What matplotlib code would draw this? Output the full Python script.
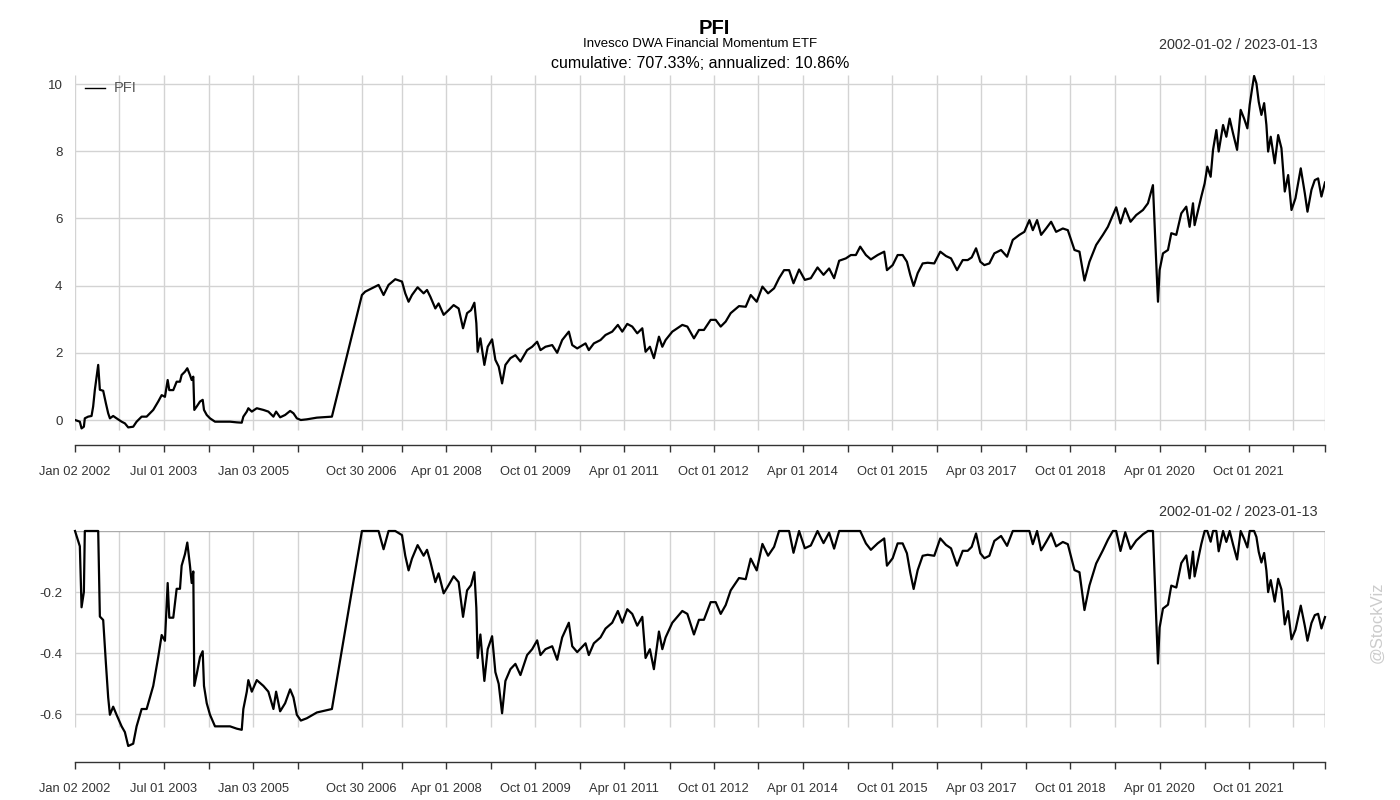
import numpy as np
import pandas as pd
import matplotlib
matplotlib.use("Agg")
import matplotlib.pyplot as plt

plt.rcParams['font.family'] = ['Liberation Sans', 'DejaVu Sans']

# fecha en años decimales y rentabilidad acumulada
years = [
    2002.003, 2002.084, 2002.113, 2002.152, 2002.168, 2002.224, 2002.281, 2002.308, 2002.337, 2002.366,
    2002.393, 2002.421, 2002.477, 2002.522, 2002.561, 2002.590, 2002.645, 2002.702, 2002.787, 2002.842,
    2002.898, 2002.982, 2003.039, 2003.124, 2003.208, 2003.319, 2003.403, 2003.461, 2003.516, 2003.562,
    2003.589, 2003.656, 2003.713, 2003.769, 2003.797, 2003.853, 2003.892, 2003.937, 2003.966, 2003.993,
    2004.010, 2004.050, 2004.106, 2004.151, 2004.173, 2004.219, 2004.274, 2004.358, 2004.498, 2004.611,
    2004.724, 2004.808, 2004.835, 2004.893, 2004.919, 2004.977, 2005.061, 2005.172, 2005.256, 2005.341,
    2005.386, 2005.454, 2005.538, 2005.622, 2005.678, 2005.735, 2005.802, 2005.903, 2006.072, 2006.325,
    2006.830, 2006.885, 2006.998, 2007.110, 2007.194, 2007.278, 2007.391, 2007.504, 2007.559, 2007.615,
    2007.672, 2007.767, 2007.868, 2007.925, 2007.981, 2008.065, 2008.120, 2008.205, 2008.289, 2008.373,
    2008.457, 2008.531, 2008.599, 2008.666, 2008.722, 2008.755, 2008.777, 2008.823, 2008.890, 2008.946,
    2009.020, 2009.075, 2009.131, 2009.188, 2009.244, 2009.328, 2009.412, 2009.497, 2009.609, 2009.694,
    2009.778, 2009.834, 2009.918, 2010.031, 2010.115, 2010.199, 2010.311, 2010.368, 2010.452, 2010.592,
    2010.647, 2010.732, 2010.844, 2010.928, 2011.041, 2011.136, 2011.210, 2011.294, 2011.378, 2011.462,
    2011.547, 2011.602, 2011.675, 2011.742, 2011.827, 2011.884, 2011.939, 2012.052, 2012.136, 2012.220,
    2012.305, 2012.416, 2012.500, 2012.584, 2012.697, 2012.782, 2012.866, 2012.950, 2013.034, 2013.174,
    2013.287, 2013.371, 2013.472, 2013.568, 2013.663, 2013.764, 2013.848, 2013.932, 2014.017, 2014.091,
    2014.185, 2014.281, 2014.382, 2014.495, 2014.596, 2014.690, 2014.774, 2014.859, 2014.972, 2015.056,
    2015.140, 2015.213, 2015.309, 2015.393, 2015.506, 2015.617, 2015.663, 2015.759, 2015.843, 2015.927,
    2015.999, 2016.055, 2016.112, 2016.180, 2016.264, 2016.348, 2016.459, 2016.560, 2016.656, 2016.741,
    2016.842, 2016.938, 2017.022, 2017.089, 2017.162, 2017.234, 2017.302, 2017.386, 2017.470, 2017.583,
    2017.684, 2017.780, 2017.891, 2017.975, 2018.060, 2018.117, 2018.189, 2018.257, 2018.341, 2018.425,
    2018.509, 2018.622, 2018.706, 2018.762, 2018.818, 2018.902, 2018.986, 2019.070, 2019.183, 2019.296,
    2019.380, 2019.464, 2019.520, 2019.592, 2019.672, 2019.761, 2019.857, 2019.970, 2020.054, 2020.138,
    2020.165, 2020.199, 2020.223, 2020.250, 2020.307, 2020.391, 2020.447, 2020.531, 2020.615, 2020.699,
    2020.755, 2020.812, 2020.839, 2020.952, 2021.008, 2021.053, 2021.109, 2021.149, 2021.205, 2021.244,
    2021.318, 2021.373, 2021.429, 2021.486, 2021.554, 2021.614, 2021.672, 2021.727, 2021.766, 2021.807,
    2021.840, 2021.879, 2021.918, 2021.963, 2022.009, 2022.047, 2022.076, 2022.120, 2022.187, 2022.245,
    2022.300, 2022.356, 2022.413, 2022.469, 2022.536, 2022.625, 2022.693, 2022.738, 2022.805, 2022.861,
    2022.917, 2022.973, 2023.033,
]
cum_ret = [
    0.00, -0.05, -0.25, -0.20, 0.05, 0.10, 0.12, 0.40, 0.90, 1.29,
    1.64, 0.90, 0.87, 0.50, 0.20, 0.05, 0.12, 0.05, -0.05, -0.10,
    -0.22, -0.20, -0.05, 0.10, 0.10, 0.30, 0.55, 0.74, 0.69, 1.19,
    0.89, 0.89, 1.14, 1.14, 1.34, 1.44, 1.54, 1.34, 1.19, 1.29,
    0.30, 0.40, 0.55, 0.60, 0.30, 0.15, 0.05, -0.05, -0.05, -0.05,
    -0.07, -0.08, 0.10, 0.25, 0.35, 0.25, 0.35, 0.30, 0.25, 0.10,
    0.25, 0.08, 0.15, 0.27, 0.20, 0.05, 0.00, 0.02, 0.07, 0.10,
    3.72, 3.82, 3.92, 4.02, 3.72, 4.02, 4.19, 4.12, 3.77, 3.52,
    3.72, 3.95, 3.77, 3.87, 3.67, 3.32, 3.47, 3.13, 3.27, 3.42,
    3.32, 2.73, 3.18, 3.27, 3.49, 2.88, 2.03, 2.43, 1.64, 2.18,
    2.40, 1.79, 1.59, 1.09, 1.64, 1.84, 1.93, 1.74, 2.08, 2.18,
    2.33, 2.08, 2.18, 2.23, 2.00, 2.38, 2.63, 2.23, 2.13, 2.28,
    2.08, 2.28, 2.38, 2.53, 2.63, 2.83, 2.63, 2.86, 2.78, 2.58,
    2.73, 2.03, 2.18, 1.84, 2.48, 2.18, 2.38, 2.63, 2.73, 2.83,
    2.78, 2.43, 2.68, 2.68, 2.98, 2.98, 2.78, 2.93, 3.18, 3.39,
    3.37, 3.72, 3.52, 3.97, 3.77, 3.92, 4.22, 4.46, 4.46, 4.07,
    4.48, 4.17, 4.22, 4.54, 4.32, 4.51, 4.22, 4.74, 4.81, 4.91,
    4.91, 5.16, 4.91, 4.78, 4.91, 5.01, 4.46, 4.61, 4.91, 4.91,
    4.71, 4.32, 3.99, 4.37, 4.66, 4.68, 4.66, 5.01, 4.88, 4.81,
    4.46, 4.76, 4.76, 4.84, 5.11, 4.71, 4.61, 4.66, 4.96, 5.06,
    4.86, 5.36, 5.51, 5.60, 5.95, 5.65, 5.95, 5.51, 5.70, 5.90,
    5.60, 5.70, 5.65, 5.36, 5.06, 5.01, 4.15, 4.71, 5.21, 5.51,
    5.75, 6.10, 6.33, 5.85, 6.30, 5.90, 6.10, 6.25, 6.45, 6.99,
    5.85, 4.46, 3.52, 4.46, 4.96, 5.06, 5.56, 5.51, 6.15, 6.35,
    5.75, 6.45, 5.80, 6.65, 7.04, 7.54, 7.24, 8.04, 8.63, 7.99,
    8.78, 8.43, 8.97, 8.53, 8.04, 9.23, 8.97, 8.68, 9.38, 9.87,
    10.24, 10.02, 9.47, 9.08, 9.43, 8.78, 7.99, 8.43, 7.64, 8.48,
    8.09, 6.80, 7.29, 6.25, 6.60, 7.49, 6.75, 6.20, 6.85, 7.14,
    7.19, 6.65, 7.07,
]

# fechas de la rejilla vertical (se etiqueta una de cada dos)
grid_dates = [
    '2002-01-02', '2002-10-01', '2003-07-01', '2004-04-01', '2005-01-03', '2005-10-03',
    '2006-10-30', '2007-07-02', '2008-04-01', '2009-01-02', '2009-10-01', '2010-07-01',
    '2011-04-01', '2012-01-03', '2012-10-01', '2013-07-01', '2014-04-01', '2015-01-02',
    '2015-10-01', '2016-07-01', '2017-04-03', '2018-01-02', '2018-10-01', '2019-07-01',
    '2020-04-01', '2021-01-04', '2021-10-01', '2022-07-01', '2023-01-13',
]
top_yticks = [0, 2, 4, 6, 8, 10]
top_ylabels = ['0', '2', '4', '6', '8', '10']
bot_yticks = [-0.2, -0.4, -0.6]
bot_ylabels = ['-0.2', '-0.4', '-0.6']


def dec_year(s):
    d = pd.Timestamp(s)
    return d.year + (d.dayofyear - 1) / 365.25


grid_t = [dec_year(s) for s in grid_dates]
grid_lab = [pd.Timestamp(s).strftime('%b %d %Y') if i % 2 == 0 and i < len(grid_dates) - 1 else ''
            for i, s in enumerate(grid_dates)]

# drawdown a partir de la serie acumulada
wealth = 1 + np.array(cum_ret)
drawdown = wealth / np.maximum.accumulate(wealth) - 1

t0, t1 = dec_year('2002-01-02'), dec_year('2023-01-13')
W, H = 1400, 800
grid_col = '#d3d3d3'
txt_col = '#333333'

fig = plt.figure(figsize=(14, 8), dpi=100)


def panel(rect, ylim, vgrid_bottom, yticks, ylabels):
    ax = fig.add_axes(rect)
    ax.set_xlim(t0, t1)
    ax.set_ylim(*ylim)
    for s in ['top', 'left', 'right']:
        ax.spines[s].set_visible(False)
    ax.spines['bottom'].set_color(txt_col)
    ax.spines['bottom'].set_linewidth(1.0)
    for yv in yticks:
        ax.axhline(yv, color=grid_col, lw=1, zorder=1)
    ax.vlines(grid_t, vgrid_bottom, ylim[1], color=grid_col, lw=1, zorder=1)
    ax.set_xticks(grid_t)
    ax.set_xticklabels(grid_lab)
    ax.set_yticks(yticks)
    ax.set_yticklabels(ylabels)
    ax.tick_params(axis='x', direction='out', length=5, width=1, color=txt_col,
                   labelsize=9.3, labelcolor=txt_col, pad=9.8)
    ax.tick_params(axis='y', length=0, labelsize=9.6, labelcolor=txt_col, pad=9)
    return ax


ax1 = panel([75 / W, 1 - 445 / H, 1250 / W, 370 / H], (-0.744, 10.268), -0.298,
            top_yticks, top_ylabels)
ax1.plot(years, cum_ret, color='black', lw=1.6, zorder=3)
ax1.plot([t0 + 0.17, t0 + 0.5], [9.87, 9.87], color='black', lw=1)
ax1.text(t0 + 0.65, 9.87, 'PFI', fontsize=10.5, color='#555555', va='center', ha='left')

ax2 = panel([75 / W, 1 - 762 / H, 1250 / W, 231 / H], (-0.757, 0.0), -0.643,
            bot_yticks, bot_ylabels)
ax2.axhline(0.0, color='#aaaaaa', lw=1, zorder=1)
ax2.vlines([t1], -0.643, 0, color='#aaaaaa', lw=1, zorder=1)
ax2.plot(years, drawdown, color='black', lw=1.6, zorder=3, clip_on=False)

# títulos
fig.text(714 / W, 1 - 28 / H, 'PFI', fontsize=14.5, fontweight='bold', ha='center', va='center')
fig.text(700 / W, 1 - 44 / H, 'Invesco DWA Financial Momentum ETF', fontsize=9.5,
         ha='center', va='center')
fig.text(700 / W, 1 - 63 / H, 'cumulative: 707.33%; annualized: 10.86%', fontsize=11.5,
         ha='center', va='center')
fig.text(1318 / W, 1 - 45 / H, '2002-01-02 / 2023-01-13', fontsize=10.4, color=txt_col,
         ha='right', va='center')
fig.text(1318 / W, 1 - 512 / H, '2002-01-02 / 2023-01-13', fontsize=10.4, color=txt_col,
         ha='right', va='center')
fig.text(1377 / W, 1 - 622 / H, '@StockViz', fontsize=12, color='#cccccc', rotation=90,
         ha='center', va='center')

fig.savefig('out.png', dpi=100, facecolor='white')
